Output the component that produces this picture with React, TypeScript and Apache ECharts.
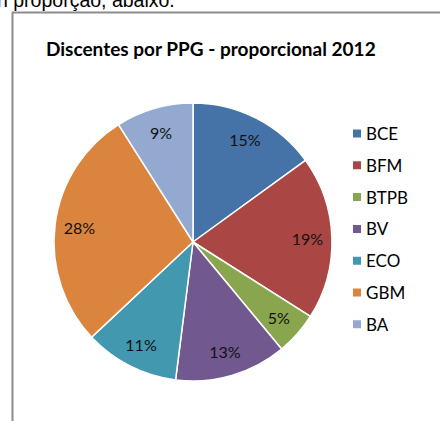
import React, { useEffect, useRef } from "react";
import * as echarts from "echarts";

const categories = ["BCE", "BFM", "BTPB", "BV", "ECO", "GBM", "BA"];
const values = [15, 19, 5, 13, 11, 28, 9];
const colors = ["#4572A7", "#AA4643", "#89A54E", "#71588F", "#4198AF", "#DB843D", "#93A9CF"];
const titleText = "Discentes por PPG - proporcional 2012";
const captionText = "n proporção, abaixo.";

export default function App() {
  const ref = useRef<HTMLDivElement>(null);
  useEffect(() => {
    if (!ref.current) return;
    const chart = echarts.init(ref.current, undefined, { renderer: "svg" });
    const data = categories.map((name, i) => ({ name, value: values[i], itemStyle: { color: colors[i] } }));
    chart.setOption({
      animation: false,
      backgroundColor: "#ffffff",
      title: {
        text: titleText,
        left: 46,
        top: 39,
        padding: 0,
        textStyle: { fontFamily: "Lato", fontWeight: "bold", fontSize: 19, color: "#000" },
      },
      legend: {
        orient: "vertical",
        left: 351,
        top: 125,
        padding: 0,
        data: categories,
        icon: "rect",
        itemWidth: 10,
        itemHeight: 10,
        itemGap: 14.8,
        textStyle: { fontFamily: "Lato", fontSize: 17, lineHeight: 16, color: "#000", padding: [0, 0, 0, -1] },
      },
      graphic: [
        { type: "text", left: -3, top: -10, style: { text: captionText, font: "19.5px 'Liberation Sans'", fill: "#000" } },
        { type: "line", shape: { x1: 12, y1: 12.5, x2: 440, y2: 12.5 }, style: { stroke: "#8c8c8c", lineWidth: 2 } },
        { type: "line", shape: { x1: 12.5, y1: 12, x2: 12.5, y2: 421 }, style: { stroke: "#8c8c8c", lineWidth: 2 } },
      ],
      series: [
        {
          type: "pie",
          center: [193, 242],
          radius: [0, 139],
          startAngle: 90,
          clockwise: true,
          data,
          label: { show: false },
          labelLine: { show: false },
          itemStyle: { borderColor: "#fff", borderWidth: 1.5 },
          emphasis: { disabled: true },
        },
        {
          type: "pie",
          center: [193, 242],
          radius: [84, 139],
          startAngle: 90,
          clockwise: true,
          silent: true,
          legendHoverLink: false,
          data: categories.map((name, i) => ({ name, value: values[i], itemStyle: { color: "rgba(0,0,0,0)" } })),
          label: {
            show: true,
            position: "inside",
            formatter: "{c}%",
            fontFamily: "Lato",
            fontSize: 16,
            color: "#111",
          },
          labelLine: { show: false },
          emphasis: { disabled: true },
          z: 3,
        },
      ],
    });
    return () => chart.dispose();
  }, []);
  return <div ref={ref} style={{ position: "fixed", left: 0, top: 0, width: 440, height: 421 }} />;
}
